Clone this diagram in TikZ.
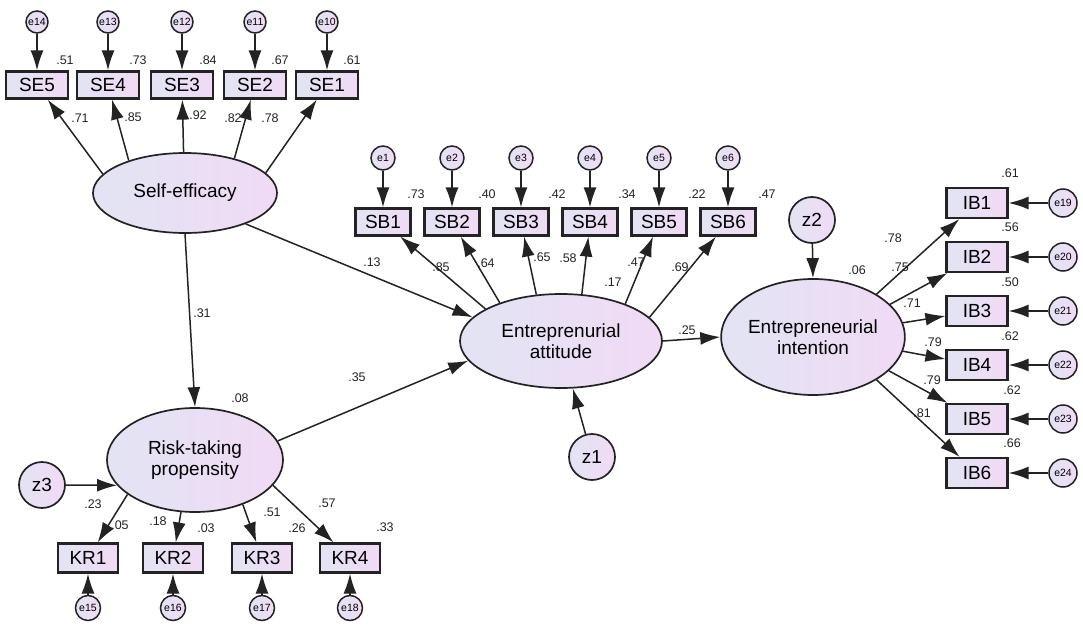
\documentclass[tikz,border=0pt]{standalone}
\usepackage{fontspec}
\setmainfont{Liberation Sans}
\usetikzlibrary{shapes.geometric,arrows.meta}
\definecolor{fillL}{RGB}{226,228,243}
\definecolor{fillR}{RGB}{241,218,246}
\definecolor{edgegray}{RGB}{35,35,35}
\tikzset{
  obs/.style={rectangle,draw=edgegray,line width=2.2pt,minimum width=60pt,minimum height=27pt,inner sep=0pt,left color=fillL,right color=fillR,font=\fontsize{19}{19}\selectfont},
  lat/.style={ellipse,draw=edgegray,line width=1.7pt,inner sep=0pt,left color=fillL,right color=fillR,align=center,font=\fontsize{19}{21}\selectfont},
  err/.style={circle,draw=edgegray,line width=1.5pt,minimum size=22pt,inner sep=0pt,left color=fillL,right color=fillR,font=\fontsize{10.5}{10.5}\selectfont},
  res/.style={circle,draw=edgegray,line width=1.7pt,minimum size=46pt,inner sep=0pt,left color=fillL,right color=fillR,font=\fontsize{19}{19}\selectfont},
  arr/.style={-{Latex[length=20pt,width=13pt]},line width=1.5pt,draw=edgegray},
  est/.style={inner sep=0pt,text=edgegray,font=\fontsize{12.5}{12.5}\selectfont}
}
\begin{document}
\begin{tikzpicture}[x=1pt,y=-1pt]
        \useasboundingbox (0,0) rectangle (1083,628);

        % latent variables
        \node[lat,minimum width=184pt,minimum height=80pt] (seff) at (185,193) {Self-efficacy};
        \node[lat,minimum width=176pt,minimum height=104pt] (risk) at (195,460) {Risk-taking\\propensity};
        \node[lat,minimum width=202pt,minimum height=94pt] (att) at (561,341) {Entreprenurial\\attitude};
        \node[lat,minimum width=158pt,minimum height=116pt] (intn) at (813,337) {Entrepreneurial\\intention};
        \node[res] (z1) at (592,457) {z1};
        \node[res] (z2) at (812,220) {z2};
        \node[res] (z3) at (42,485) {z3};

        % self-efficacy items
        \node[obs,minimum width=62pt] (se5) at (37,85) {SE5};
        \node[obs,minimum width=62pt] (se4) at (108,85) {SE4};
        \node[obs,minimum width=62pt] (se3) at (182,85) {SE3};
        \node[obs,minimum width=62pt] (se2) at (255,85) {SE2};
        \node[obs,minimum width=62pt] (se1) at (327,85) {SE1};
        \node[err] (e14) at (37,22) {e14};
        \node[err] (e13) at (108,22) {e13};
        \node[err] (e12) at (182,22) {e12};
        \node[err] (e11) at (255,22) {e11};
        \node[err] (e10) at (327,22) {e10};

        % attitude items
        \node[obs,minimum width=55pt] (sb1) at (383,222) {SB1};
        \node[obs,minimum width=55pt] (sb2) at (452,222) {SB2};
        \node[obs,minimum width=55pt] (sb3) at (521,222) {SB3};
        \node[obs,minimum width=55pt] (sb4) at (590,222) {SB4};
        \node[obs,minimum width=55pt] (sb5) at (659,222) {SB5};
        \node[obs,minimum width=55pt] (sb6) at (728,222) {SB6};
        \node[err,minimum size=24pt] (e1) at (383,158) {e1};
        \node[err,minimum size=24pt] (e2) at (452,158) {e2};
        \node[err,minimum size=24pt] (e3) at (521,158) {e3};
        \node[err,minimum size=24pt] (e4) at (590,158) {e4};
        \node[err,minimum size=24pt] (e5) at (659,158) {e5};
        \node[err,minimum size=24pt] (e6) at (728,158) {e6};

        % intention items
        \node[obs,minimum width=61pt,minimum height=30pt] (ib1) at (977,203) {IB1};
        \node[obs,minimum width=61pt,minimum height=30pt] (ib2) at (977,257) {IB2};
        \node[obs,minimum width=61pt,minimum height=30pt] (ib3) at (977,311) {IB3};
        \node[obs,minimum width=61pt,minimum height=30pt] (ib4) at (977,365) {IB4};
        \node[obs,minimum width=61pt,minimum height=30pt] (ib5) at (977,419) {IB5};
        \node[obs,minimum width=61pt,minimum height=30pt] (ib6) at (977,473) {IB6};
        \node[err,minimum size=28pt] (e19) at (1063,203) {e19};
        \node[err,minimum size=28pt] (e20) at (1063,257) {e20};
        \node[err,minimum size=28pt] (e21) at (1063,311) {e21};
        \node[err,minimum size=28pt] (e22) at (1063,365) {e22};
        \node[err,minimum size=28pt] (e23) at (1063,419) {e23};
        \node[err,minimum size=28pt] (e24) at (1063,473) {e24};

        % risk items
        \node[obs,minimum height=29pt] (kr1) at (88,558) {KR1};
        \node[obs,minimum height=29pt] (kr2) at (173,558) {KR2};
        \node[obs,minimum height=29pt] (kr3) at (262,558) {KR3};
        \node[obs,minimum height=29pt] (kr4) at (350,558) {KR4};
        \node[err,minimum size=25pt] (e15) at (88,608) {e15};
        \node[err,minimum size=25pt] (e16) at (173,608) {e16};
        \node[err,minimum size=25pt] (e17) at (262,608) {e17};
        \node[err,minimum size=25pt] (e18) at (350,608) {e18};

        % paths
        \draw[arr] (e14) -- (se5);
        \draw[arr] (e13) -- (se4);
        \draw[arr] (e12) -- (se3);
        \draw[arr] (e11) -- (se2);
        \draw[arr] (e10) -- (se1);
        \draw[arr] (seff.167) -- (se5);
        \draw[arr] (seff.150) -- (se4);
        \draw[arr] (seff.92) -- (se3);
        \draw[arr] (seff.35) -- (se2);
        \draw[arr] (seff.14) -- (se1);

        \draw[arr] (e1) -- (sb1);
        \draw[arr] (e2) -- (sb2);
        \draw[arr] (e3) -- (sb3);
        \draw[arr] (e4) -- (sb4);
        \draw[arr] (e5) -- (sb5);
        \draw[arr] (e6) -- (sb6);
        \draw[arr] (att.157) -- (sb1);
        \draw[arr] (att.148) -- (sb2);
        \draw[arr] (att.118) -- (sb3);
        \draw[arr] (att.66) -- (sb4);
        \draw[arr] (att.30) -- (sb5);
        \draw[arr] (att.15) -- (sb6);

        \draw[arr] (e19) -- (ib1);
        \draw[arr] (e20) -- (ib2);
        \draw[arr] (e21) -- (ib3);
        \draw[arr] (e22) -- (ib4);
        \draw[arr] (e23) -- (ib5);
        \draw[arr] (e24) -- (ib6);
        \draw[arr] (intn.34) -- (ib1);
        \draw[arr] (intn.23) -- (ib2);
        \draw[arr] (intn.9) -- (ib3);
        \draw[arr] (intn.-9) -- (ib4);
        \draw[arr] (intn.-24) -- (ib5);
        \draw[arr] (intn.-34) -- (ib6);

        \draw[arr] (e15) -- (kr1);
        \draw[arr] (e16) -- (kr2);
        \draw[arr] (e17) -- (kr3);
        \draw[arr] (e18) -- (kr4);
        \draw[arr] (risk.207) -- (kr1);
        \draw[arr] (risk.255) -- (kr2);
        \draw[arr] (risk.317) -- (kr3);
        \draw[arr] (risk.342) -- (kr4);

        \draw[arr] (seff.south) -- (risk.north);
        \draw[arr] (seff.333) -- (att.165);
        \draw[arr] (risk.13) -- (att.192);
        \draw[arr] (att.east) -- (intn.west);
        \draw[arr] (z1) -- (att.284);
        \draw[arr] (z2) -- (intn.north);
        \draw[arr] (z3) -- (risk.198);

        % estimates
        \node[est] (r-se5) at (65,60) {.51};
        \node[est] (r-se4) at (138,60) {.73};
        \node[est] (r-se3) at (208,60) {.84};
        \node[est] (r-se2) at (280,60) {.67};
        \node[est] (r-se1) at (352,60) {.61};
        \node[est] (l-se5) at (80,118) {.71};
        \node[est] (l-se4) at (133,117) {.85};
        \node[est] (l-se3) at (198,115) {.92};
        \node[est] (l-se2) at (233,118) {.82};
        \node[est] (l-se1) at (270,118) {.78};

        \node[est] (r-sb1) at (416,194) {.73};
        \node[est] (r-sb2) at (487,194) {.40};
        \node[est] (r-sb3) at (557,194) {.42};
        \node[est] (r-sb4) at (627,194) {.34};
        \node[est] (r-sb5) at (697,194) {.22};
        \node[est] (r-sb6) at (767,194) {.47};
        \node[est] (l-sb1) at (441,267) {.85};
        \node[est] (l-sb2) at (486,263) {.64};
        \node[est] (l-sb3) at (542,257) {.65};
        \node[est] (l-sb4) at (568,258) {.58};
        \node[est] (l-sb5) at (636,262) {.47};
        \node[est] (l-sb6) at (680,267) {.69};

        \node[est] (r-ib1) at (1010,173) {.61};
        \node[est] (r-ib2) at (1010,227) {.56};
        \node[est] (r-ib3) at (1010,282) {.50};
        \node[est] (r-ib4) at (1010,336) {.62};
        \node[est] (r-ib5) at (1012,390) {.62};
        \node[est] (r-ib6) at (1012,443) {.66};
        \node[est] (l-ib1) at (893,238) {.78};
        \node[est] (l-ib2) at (900,267) {.75};
        \node[est] (l-ib3) at (912,303) {.71};
        \node[est] (l-ib4) at (933,342) {.79};
        \node[est] (l-ib5) at (932,380) {.79};
        \node[est] (l-ib6) at (922,413) {.81};

        \node[est] (l-kr1) at (93,504) {.23};
        \node[est] (l-kr2) at (158,521) {.18};
        \node[est] (l-kr3) at (272,512) {.51};
        \node[est] (l-kr4) at (327,503) {.57};
        \node[est] (r-kr1) at (120,525) {.05};
        \node[est] (r-kr2) at (206,528) {.03};
        \node[est] (r-kr3) at (297,528) {.26};
        \node[est] (r-kr4) at (385,527) {.33};

        \node[est] (r-att) at (613,282) {.17};
        \node[est] (r-risk) at (240,398) {.08};
        \node[est] (r-intn) at (857,270) {.06};
        \node[est] (p-seatt) at (372,262) {.13};
        \node[est] (p-riskatt) at (357,377) {.35};
        \node[est] (p-serisk) at (202,313) {.31};
        \node[est] (p-attintn) at (687,330) {.25};
        \end{tikzpicture}
\end{document}
